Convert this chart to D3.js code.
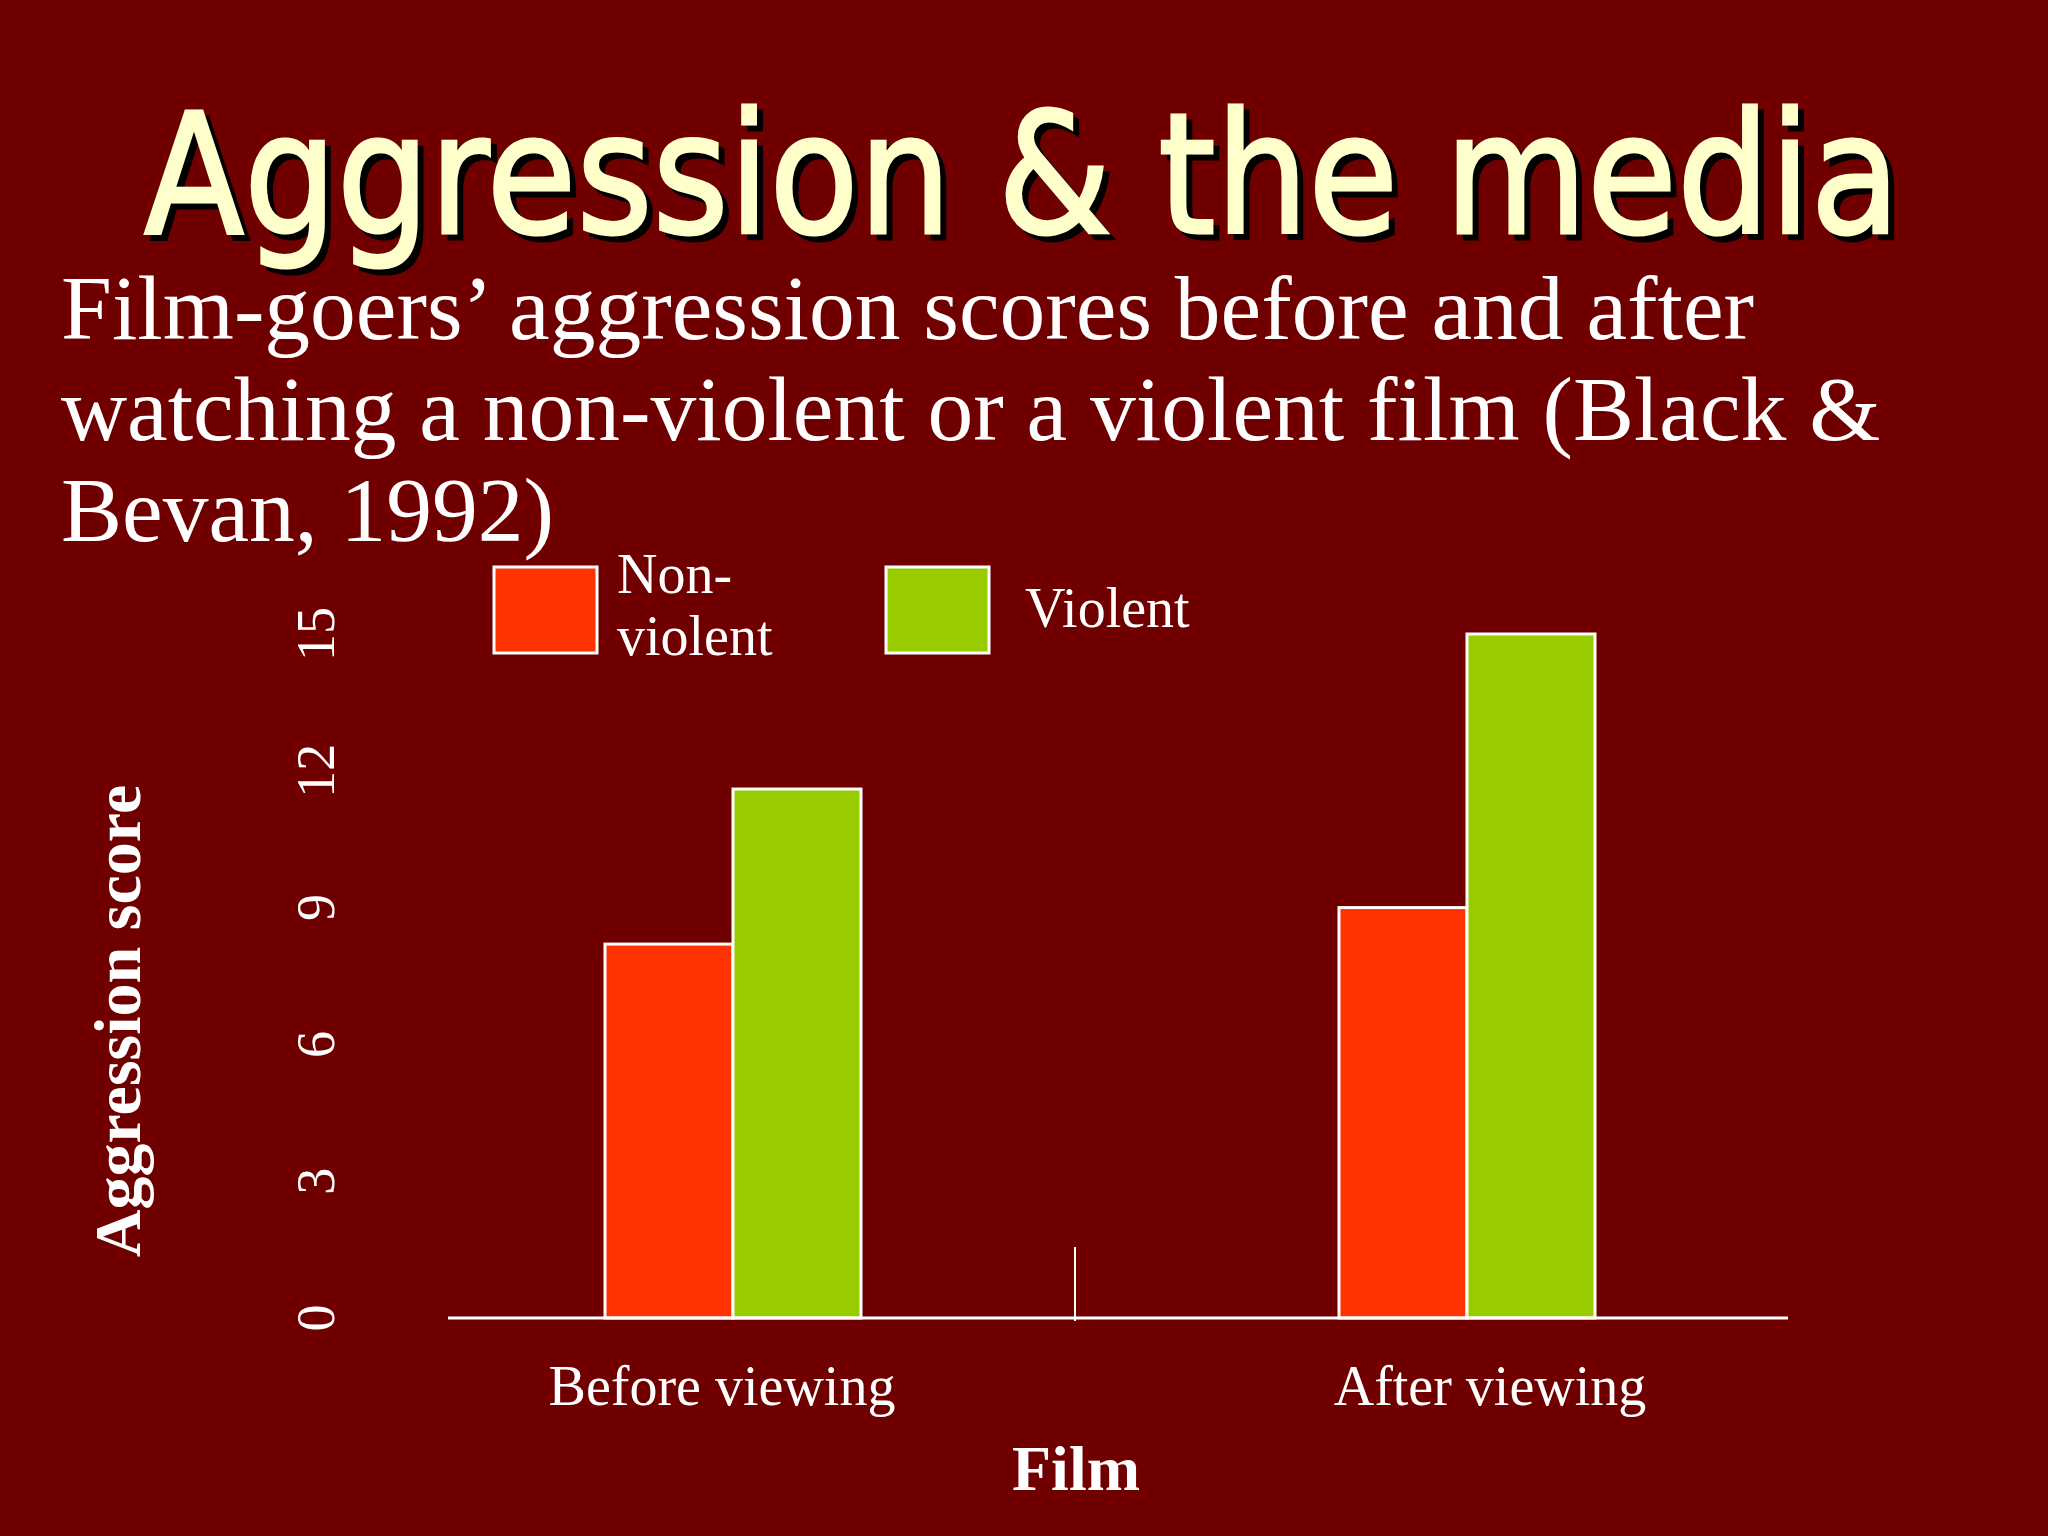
<!DOCTYPE html>
<html>
<head>
<meta charset="utf-8">
<script src="https://cdn.jsdelivr.net/npm/d3@7"></script>
<style>
  html, body { margin: 0; padding: 0; background: #700000; }
  svg { display: block; }
</style>
</head>
<body>
<div id="chart"></div>
<script>
// data
const categories = ["Before viewing", "After viewing"];
const series = ["Non-violent", "Violent"];
const nonViolent = [8.2, 9.0];
const violent = [11.6, 15.0];
const yTicks = [0, 3, 6, 9, 12, 15];

const width = 2048;
const height = 1536;
const bg = "#700000";
const color = d3.scaleOrdinal().domain(series).range(["#FF3300", "#99CC00"]);

const svg = d3.select("#chart")
    .append("svg")
    .attr("width", width)
    .attr("height", height);

svg.append("rect").attr("width", width).attr("height", height).attr("fill", bg);

// Title with shadow
const title = "Aggression & the media";
[["#000000", 6], ["#FFFFCC", 0]].forEach(([c, off]) => {
    svg.append("text")
        .attr("x", 144 + off)
        .attr("y", 233 + off)
        .attr("font-family", "DejaVu Sans, Verdana, sans-serif")
        .attr("font-size", 168)
        .attr("textLength", 1756)
        .attr("lengthAdjust", "spacingAndGlyphs")
        .attr("fill", c)
        .attr("stroke", c)
        .attr("stroke-width", 3)
        .text(title);
});

// Subtitle
const subLines = [
    "Film-goers\u2019 aggression scores before and after",
    "watching a non-violent or a violent film (Black &",
    "Bevan, 1992)"
];
svg.append("g").selectAll("text")
    .data(subLines)
    .enter()
    .append("text")
    .attr("x", 61)
    .attr("y", (d, i) => 339 + i * 101)
    .attr("font-family", "Liberation Serif, Times New Roman, serif")
    .attr("font-size", 91.5)
    .attr("fill", "#ffffff")
    .text(d => d);

// Scales
const y = d3.scaleLinear().domain([0, 15]).range([1318, 634]);
const x0 = d3.scaleBand().domain(categories).range([366, 1834]);
const x1 = d3.scaleBand().domain(series).range([-128, 128]);
const xLabel = d3.scaleBand().domain(categories).range([338, 1874]);

const rows = categories.map((c, i) => ({
    cat: c,
    vals: [{ s: series[0], v: nonViolent[i] }, { s: series[1], v: violent[i] }]
}));

// Bars
const groups = svg.append("g").selectAll("g")
    .data(rows)
    .enter()
    .append("g")
    .attr("transform", d => `translate(${x0(d.cat) + x0.bandwidth() / 2},0)`);

groups.selectAll("rect")
    .data(d => d.vals)
    .enter()
    .append("rect")
    .attr("x", d => x1(d.s))
    .attr("width", x1.bandwidth())
    .attr("y", d => y(d.v))
    .attr("height", d => y(0) - y(d.v))
    .attr("fill", d => color(d.s))
    .attr("stroke", "#ffffff")
    .attr("stroke-width", 3);

// X axis line + middle tick
svg.append("line")
    .attr("x1", 448).attr("x2", 1788)
    .attr("y1", y(0)).attr("y2", y(0))
    .attr("stroke", "#ffffff").attr("stroke-width", 3);
svg.append("line")
    .attr("x1", 1075).attr("x2", 1075)
    .attr("y1", 1247).attr("y2", y(0) + 3)
    .attr("stroke", "#ffffff").attr("stroke-width", 2);

// Category labels
svg.append("g").selectAll("text")
    .data(categories)
    .enter()
    .append("text")
    .attr("x", d => xLabel(d) + xLabel.bandwidth() / 2)
    .attr("y", 1405)
    .attr("text-anchor", "middle")
    .attr("font-family", "Liberation Serif, Times New Roman, serif")
    .attr("font-size", 56)
    .attr("fill", "#ffffff")
    .text(d => d);

svg.append("text")
    .attr("x", 1076)
    .attr("y", 1490)
    .attr("text-anchor", "middle")
    .attr("font-family", "Liberation Serif, Times New Roman, serif")
    .attr("font-weight", "bold")
    .attr("font-size", 64)
    .attr("fill", "#ffffff")
    .text("Film");

// Y tick labels (rotated)
svg.append("g").selectAll("text")
    .data(yTicks)
    .enter()
    .append("text")
    .attr("transform", d => `translate(334,${y(d)}) rotate(-90)`)
    .attr("text-anchor", "middle")
    .attr("font-family", "Liberation Serif, Times New Roman, serif")
    .attr("font-size", 54)
    .attr("fill", "#ffffff")
    .text(d => d);

svg.append("text")
    .attr("transform", "translate(140,1021) rotate(-90)")
    .attr("text-anchor", "middle")
    .attr("font-family", "Liberation Serif, Times New Roman, serif")
    .attr("font-weight", "bold")
    .attr("font-size", 66)
    .attr("fill", "#ffffff")
    .text("Aggression score");

// Legend
const legend = svg.append("g").selectAll("g")
    .data(series)
    .enter()
    .append("g")
    .attr("transform", (d, i) => `translate(${494 + i * 392},567)`);

legend.append("rect")
    .attr("width", 103)
    .attr("height", 86)
    .attr("fill", d => color(d))
    .attr("stroke", "#ffffff")
    .attr("stroke-width", 3);

const legendLines = [["Non-", "violent"], ["Violent"]];
legend.each(function (d, i) {
    const g = d3.select(this);
    const lines = legendLines[i];
    g.selectAll("text")
        .data(lines)
        .enter()
        .append("text")
        .attr("x", i === 0 ? 123 : 139)
        .attr("y", (t, j) => (lines.length === 1 ? 60 : 26 + j * 62))
        .attr("font-family", "Liberation Serif, Times New Roman, serif")
        .attr("font-size", 56)
        .attr("fill", "#ffffff")
        .text(t => t);
});
</script>
</body>
</html>
